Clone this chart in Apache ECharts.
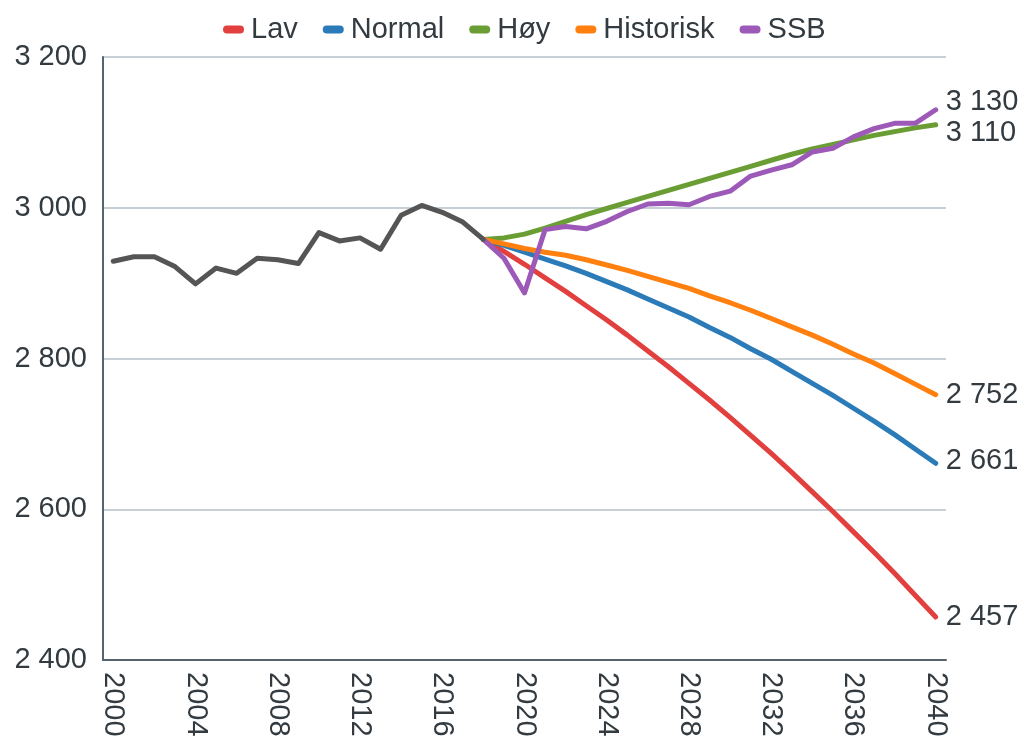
<!DOCTYPE html>
<html>
<head>
<meta charset="utf-8">
<script src="https://cdn.jsdelivr.net/npm/echarts@6/dist/echarts.min.js"></script>
<style>
html,body{margin:0;padding:0;background:#fff;}
#chart{width:1024px;height:740px;}
</style>
</head>
<body>
<div id="chart"></div>
<script>
var years = ['2000','2001','2002','2003','2004','2005','2006','2007','2008','2009',
  '2010','2011','2012','2013','2014','2015','2016','2017','2018','2019',
  '2020','2021','2022','2023','2024','2025','2026','2027','2028','2029',
  '2030','2031','2032','2033','2034','2035','2036','2037','2038','2039','2040'];

var historical = [2929,2935,2935,2922,2899,2920,2913,2933,2931,2926,
  2967,2956,2960,2945,2990,3003,2994,2981,2958];

// forecasts from 2018 to 2040
var lav = [2958,2942,2925,2907,2889,2870,2851,2831,2810,2789,2767,2745,2722,2698,2674,2649,2623,2597,2570,2543,2515,2486,2457];
var normal = [2958,2950,2941,2932,2923,2913,2902,2891,2879,2867,2855,2841,2828,2813,2799,2783,2767,2751,2734,2717,2699,2680,2661];
var hoy = [2958,2960,2965,2973,2982,2991,2999,3007,3015,3023,3031,3039,3047,3055,3063,3071,3078,3084,3090,3096,3101,3106,3110];
var historisk = [2958,2952,2946,2941,2937,2931,2924,2917,2909,2901,2893,2883,2874,2864,2853,2842,2831,2819,2806,2794,2780,2766,2752];
var ssb = [2958,2933,2887,2971,2975,2972,2982,2995,3005,3006,3004,3015,3022,3042,3050,3057,3074,3079,3094,3105,3112,3112,3130];

var yTicks = [2400, 2600, 2800, 3000, 3200];

function pad(arr, startIdx) {
  var out = [];
  for (var i = 0; i < years.length; i++) {
    var j = i - startIdx;
    out.push(j >= 0 && j < arr.length ? arr[j] : null);
  }
  return out;
}
function fmt(v) {
  var s = String(Math.round(v));
  return s.length > 3 ? s.slice(0, s.length - 3) + ' ' + s.slice(-3) : s;
}

var textColor = '#333b40';
var fontFamily = 'Liberation Sans, Arial, sans-serif';
var fs = 29;

function fc(name, data, color, offsetY) {
  return {
    name: name,
    type: 'line',
    data: pad(data, 18),
    symbol: 'none',
    smooth: false,
    lineStyle: { width: 5, color: color, cap: 'round', join: 'round' },
    itemStyle: { color: color },
    endLabel: {
      show: true,
      formatter: function (p) { return fmt(p.value); },
      color: textColor,
      fontSize: fs,
      fontFamily: fontFamily,
      distance: 10,
      offset: [0, offsetY || 0]
    },
    emphasis: { disabled: true }
  };
}

var chart = echarts.init(document.getElementById('chart'), null, { renderer: 'canvas' });
chart.setOption({
  animation: false,
  backgroundColor: '#ffffff',
  textStyle: { fontFamily: fontFamily },
  legend: {
    top: 10,
    left: 218,
    icon: 'path://M4,0 L17,0 A4,4 0 0 1 17,8 L4,8 A4,4 0 0 1 4,0 Z',
    itemWidth: 21,
    itemHeight: 8,
    itemGap: 25,
    textStyle: { color: textColor, fontSize: fs, fontFamily: fontFamily, padding: [0, 0, 0, 2] },
    data: ['Lav', 'Normal', 'Høy', 'Historisk', 'SSB']
  },
  grid: { left: 103, right: 78, top: 57, bottom: 80, containLabel: false },
  xAxis: {
    type: 'category',
    data: years,
    boundaryGap: true,
    axisLine: { show: true, lineStyle: { color: '#56646e', width: 2 } },
    axisTick: { show: false },
    axisLabel: {
      interval: 3,
      rotate: -90,
      margin: 12,
      color: textColor,
      fontSize: fs,
      fontFamily: fontFamily
    },
    splitLine: { show: false }
  },
  yAxis: {
    type: 'value',
    min: yTicks[0],
    max: yTicks[yTicks.length - 1],
    interval: 200,
    axisLine: { show: true, lineStyle: { color: '#56646e', width: 2 } },
    axisTick: { show: false },
    axisLabel: {
      margin: 16,
      color: textColor,
      fontSize: fs,
      fontFamily: fontFamily,
      formatter: function (v) { return fmt(v); }
    },
    splitLine: { show: true, lineStyle: { color: '#b4c0c8', width: 1.5 } }
  },
  series: [
    fc('Lav', lav, '#e2403f', 0),
    fc('Normal', normal, '#2b7bb9', -2),
    fc('Høy', hoy, '#6a9e35', 8),
    fc('Historisk', historisk, '#ff7f0f', 0),
    fc('SSB', ssb, '#9c59b8', -8),
    {
      name: 'Historikk',
      type: 'line',
      data: historical,
      symbol: 'none',
      lineStyle: { width: 5, color: '#555555', cap: 'round', join: 'round' },
      itemStyle: { color: '#555555' },
      emphasis: { disabled: true }
    }
  ]
});
</script>
</body>
</html>
